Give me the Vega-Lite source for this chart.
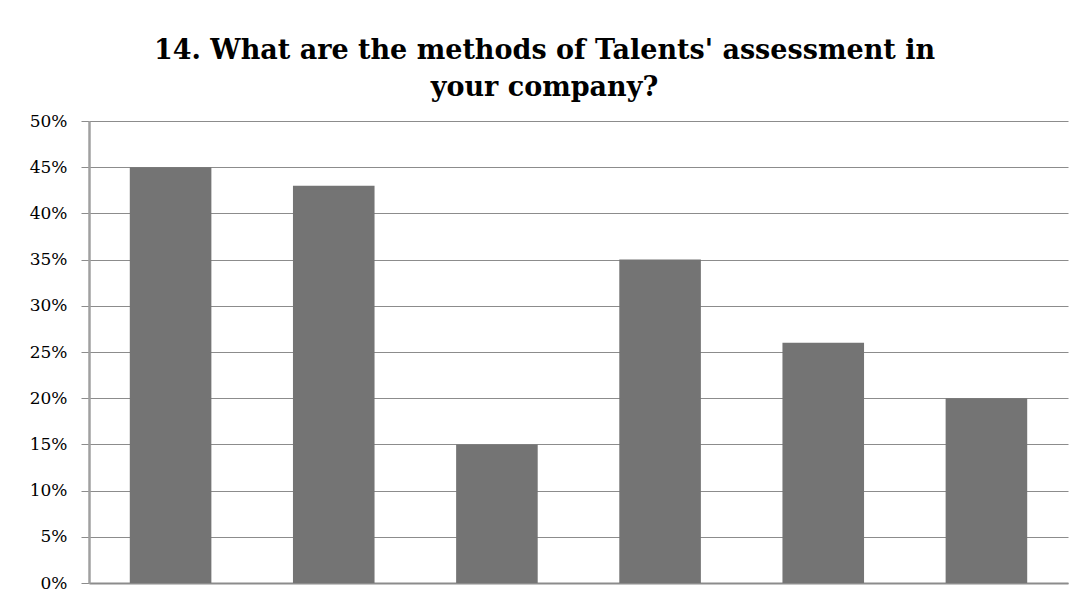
{
  "$schema": "https://vega.github.io/schema/vega-lite/v6.json",
  "autosize": {"type": "none"},
  "width": 979,
  "height": 462,
  "padding": {"left": 89, "top": 121, "right": 23, "bottom": 16},
  "background": "white",
  "title": {
    "text": ["14. What are the methods of Talents' assessment in", "your company?"],
    "font": "DejaVu Serif",
    "fontSize": 27,
    "fontWeight": "bold",
    "color": "#000000",
    "anchor": "middle",
    "dx": -34,
    "offset": 10,
    "lineHeight": 37
  },
  "data": {
    "values": [
      {"method": "Method 1", "share": 0.45},
      {"method": "Method 2", "share": 0.43},
      {"method": "Method 3", "share": 0.15},
      {"method": "Method 4", "share": 0.35},
      {"method": "Method 5", "share": 0.26},
      {"method": "Method 6", "share": 0.20}
    ]
  },
  "mark": {"type": "bar", "color": "#747474"},
  "encoding": {
    "x": {
      "field": "method",
      "type": "nominal",
      "sort": null,
      "scale": {"paddingInner": 0.5, "paddingOuter": 0.25},
      "axis": {"title": null, "labels": false, "ticks": false, "domain": true, "domainColor": "#8c8c8c", "domainWidth": 2}
    },
    "y": {
      "field": "share",
      "type": "quantitative",
      "scale": {"domain": [0, 0.5], "nice": false},
      "axis": {
        "title": null,
        "format": ".0%",
        "values": [0, 0.05, 0.1, 0.15, 0.2, 0.25, 0.3, 0.35, 0.4, 0.45, 0.5],
        "labelFont": "DejaVu Serif",
        "labelFontSize": 17,
        "labelColor": "#000000",
        "labelPadding": 14,
        "tickSize": 8,
        "tickColor": "#8c8c8c",
        "domainColor": "#a0a0a0",
        "domainWidth": 2.5,
        "gridColor": "#8c8c8c",
        "gridWidth": 1,
        "gridOpacity": 1
      }
    }
  },
  "config": {"view": {"stroke": null}}
}
